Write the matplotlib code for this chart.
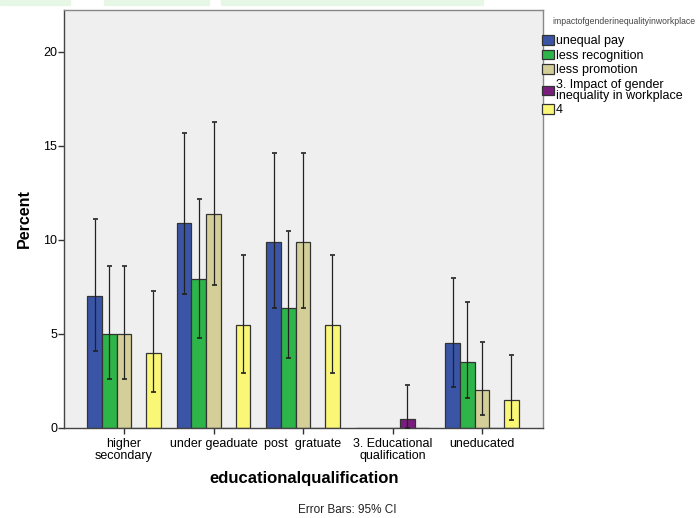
import matplotlib
matplotlib.use("Agg")
import matplotlib.pyplot as plt
import numpy as np
from matplotlib.patches import Rectangle

plt.rcParams['font.family'] = ['Liberation Sans', 'DejaVu Sans']

categories = ["higher\nsecondary", "under geaduate", "post  gratuate",
              "3. Educational\nqualification", "uneducated"]
series = ["unequal pay", "less recognition", "less promotion",
          "3. Impact of gender\ninequality in workplace", "4"]
colors = ["#3A55A6", "#2EB54A", "#D4CF98", "#7A1E7E", "#FAF777"]

# percent per category (rows) and series (columns)
values = [
    [7.0, 5.0, 5.0, 0.0, 4.0],
    [10.9, 7.9, 11.4, 0.0, 5.5],
    [9.9, 6.4, 9.9, 0.0, 5.5],
    [0.0, 0.0, 0.0, 0.5, 0.0],
    [4.5, 3.5, 2.0, 0.0, 1.5],
]
ci_low = [
    [4.1, 2.6, 2.6, None, 1.9],
    [7.1, 4.8, 7.6, None, 2.9],
    [6.4, 3.7, 6.4, None, 2.9],
    [None, None, None, 0.0, None],
    [2.2, 1.6, 0.7, None, 0.4],
]
ci_high = [
    [11.1, 8.6, 8.6, None, 7.3],
    [15.7, 12.2, 16.3, None, 9.2],
    [14.6, 10.5, 14.6, None, 9.2],
    [None, None, None, 2.3, None],
    [8.0, 6.7, 4.6, None, 3.9],
]

fig = plt.figure(figsize=(6.97, 5.18), dpi=100)
ax = fig.add_axes([64/697, 1-428/518, (543-64)/697, (428-10)/518])
ax.set_facecolor("#EFEFEF")

# faint header strips
for x0, x1 in [(0, 70), (104, 209), (221, 483)]:
    fig.patches.append(Rectangle((x0/697, 1-5/518), (x1-x0)/697, 5/518,
                                 transform=fig.transFigure, color="#E6F7E6", zorder=0))

x = np.arange(len(categories))
w = 0.164
handles = []
for j, name in enumerate(series):
    off = (j - 2) * w
    vals = [values[i][j] for i in range(len(categories))]
    b = ax.bar(x + off, vals, width=w, color=colors[j], edgecolor="#333333",
               linewidth=0.9, label=name, zorder=2)
    handles.append(b)
    for i in range(len(categories)):
        lo, hi = ci_low[i][j], ci_high[i][j]
        if lo is None:
            continue
        ax.errorbar(x[i] + off, vals[i], yerr=[[vals[i]-lo], [hi-vals[i]]],
                    fmt='none', ecolor="#222222", elinewidth=0.9,
                    capsize=1.8, capthick=1.2, zorder=3)

ax.set_xlim(-0.67, 4.68)
ax.set_ylim(0, 22.23)
ax.set_yticks([0, 5, 10, 15, 20])
ax.set_xticks(x)
ax.set_xticklabels(categories, fontsize=9, linespacing=1.0)
ax.tick_params(axis='y', labelsize=9, length=4, width=1, color="#333333", pad=1)
ax.tick_params(axis='x', length=4, width=1, color="#333333", pad=3)
for s in ['top', 'right']:
    ax.spines[s].set_color("#888888")
for s in ['left', 'bottom']:
    ax.spines[s].set_color("#444444")
for s in ax.spines.values():
    s.set_linewidth(1.0)

ax.set_ylabel("Percent", fontsize=11.5, fontweight='bold', labelpad=8)
fig.text(304/697, 1-478/518, "educationalqualification", fontsize=12,
         fontweight='bold', ha='center', va='center')
fig.text(347/697, 1-510/518, "Error Bars: 95% CI", fontsize=8.5,
         ha='center', va='center', color="#222222")

fig.text(552/697, 1-21/518, "impactofgenderinequalityinworkplace",
         fontsize=6.2, color="#444444", ha='left', va='center')
leg = fig.legend(handles=handles, labels=series, loc='upper left',
                 bbox_to_anchor=(542/697, 1-35/518), frameon=False,
                 fontsize=9, handlelength=0.95, handleheight=0.8,
                 handletextpad=0.15, labelspacing=0.2, borderaxespad=0,
                 borderpad=0)
for t in leg.get_texts():
    t.set_linespacing(0.85)

fig.savefig("out.png", dpi=100, facecolor="white")
